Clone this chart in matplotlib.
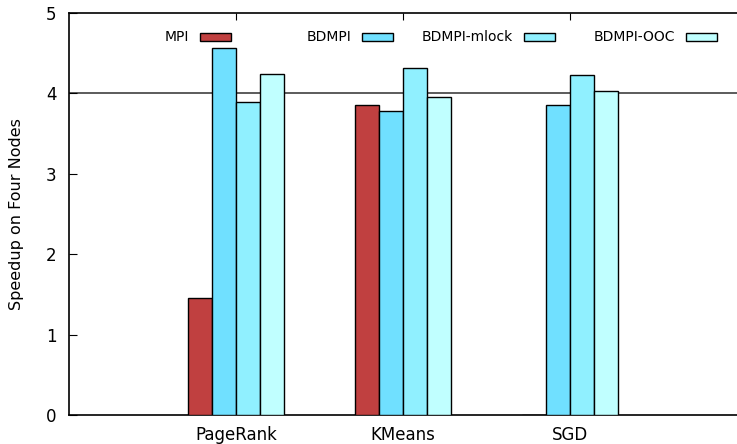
import matplotlib.pyplot as plt
import matplotlib.patches as mpatches
import numpy as np

# benchmarks and speedups
apps = ["PageRank", "KMeans", "SGD"]
series = ["MPI", "BDMPI", "BDMPI-mlock", "BDMPI-OOC"]
mpi = [1.45, 3.86, 0.0]
bdmpi = [4.57, 3.78, 3.85]
mlock = [3.89, 4.31, 4.23]
ooc = [4.24, 3.95, 4.03]
colors = ["#c04040", "#70e0ff", "#90f0ff", "#c0ffff"]

fig = plt.figure(figsize=(7.37, 4.44), dpi=100)
ax = fig.add_axes([69/737, 1-415/444, 668/737, 402/444])

x = np.arange(len(apps))
w = 1/7
vals = [mpi, bdmpi, mlock, ooc]
for j, (v, c) in enumerate(zip(vals, colors)):
    ax.bar(x + (j - 1.5)*w, v, w, color=c, edgecolor="black", linewidth=1, zorder=3)

# reference line at 4
ax.axhline(4, color="#404040", linewidth=1.2, zorder=1)

ax.set_xlim(-1, 3)
ax.set_ylim(0, 5)
ax.set_yticks(range(6))
ax.set_xticks(x)
ax.set_xticklabels(apps, fontsize=12)
ax.tick_params(axis="y", direction="in", length=6, width=0.8, labelsize=12, pad=9)
ax.tick_params(axis="x", direction="in", length=5, width=0.8, bottom=False, top=True,
               labelbottom=True, labeltop=False, pad=8)
ax.spines["right"].set_visible(False)
for s in ["left", "top", "bottom"]:
    ax.spines[s].set_linewidth(1.2)
ax.set_ylabel("Speedup on Four Nodes", fontsize=11.5)
ax.yaxis.set_label_coords(-0.068, 0.5)

# gnuplot style key: text right aligned, swatch after it
sw_w = 31/668
sw_h = 8/402
for j, (name, c) in enumerate(zip(series, colors)):
    right = (231 + 162*j - 69)/668
    yc = (415 - 37)/402
    ax.add_patch(mpatches.Rectangle((right - sw_w, yc - sw_h/2), sw_w, sw_h,
                                    transform=ax.transAxes, facecolor=c,
                                    edgecolor="black", linewidth=1, clip_on=False, zorder=4))
    ax.text(right - sw_w - 11/668, yc, name, transform=ax.transAxes, ha="right",
            va="center", fontsize=10)

fig.savefig("out.png", dpi=100)
